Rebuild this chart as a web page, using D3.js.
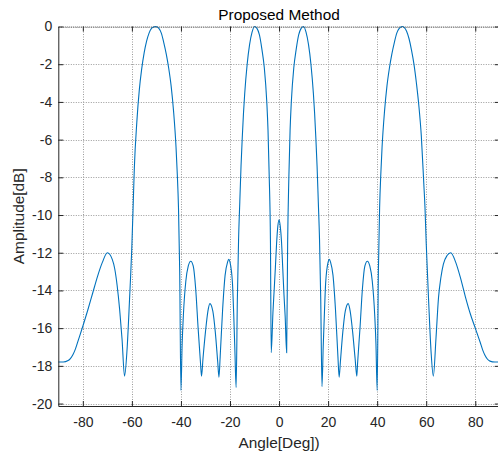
<!DOCTYPE html>
<html>
<head>
<meta charset="utf-8">
<script src="https://d3js.org/d3.v7.min.js"></script>
<style>
  body { margin: 0; background: #fff; }
  svg { display: block; font-family: "Liberation Sans", Arial, sans-serif; }
</style>
</head>
<body>
<svg id="chart" width="498" height="454"></svg>
<script>
// beam pattern
const angleDeg = [
  -90, -88, -86, -85, -84, -83, -82, -80, -78, -76, -74, -72, -70, -68, -67, -66, -65, -64, -63,
  -62, -61, -60, -59.5, -59, -58, -57, -56, -55, -54, -53, -52, -51, -50.2, -49, -48, -47, -46,
  -45, -44, -43, -42, -41.5, -41, -40.5, -40,
  -39.5, -39, -38, -37, -36, -35, -34, -33, -32, -31.6, -31, -30, -29, -28.2, -27, -26, -25,
  -24.5, -24, -23, -22, -21, -20.5, -20, -19, -18.5, -18, -17.5,
  -17, -16.5, -16, -15.5, -15, -14.5, -14, -13, -12, -11, -10, -9, -8, -7, -6, -5, -4.5, -4,
  -3.5, -3.2, -2.5, -2, -1.5, -1, -0.5, 0, 0.5, 1, 1.5, 2, 2.5, 3.1,
  3.5, 4, 4.5, 5, 6, 7, 8, 9, 10, 11, 12, 13, 14, 14.5, 15, 15.5, 16, 16.5, 17, 17.5,
  18, 18.5, 19, 20, 20.5, 21, 22, 23, 24, 24.5, 25, 26, 27, 28.2, 29, 30, 31, 31.7, 32, 33,
  34, 35, 36, 37, 38, 39, 39.5, 40,
  40.5, 41, 41.5, 42, 43, 44, 45, 46, 47, 48, 49, 50.2, 51, 52, 53, 54, 55, 56, 57, 58, 59,
  59.5, 60, 61, 62, 62.9,
  64, 65, 66, 67, 68.5, 70, 72, 74, 76, 78, 80, 82, 83, 84, 85, 86, 88, 90
];
const amplitudeDb = [
  -17.8, -17.8, -17.72, -17.6, -17.4, -17.1, -16.7, -15.9, -15.05, -14.15, -13.25, -12.5, -12.0, -12.35, -12.85, -13.75, -15.0, -16.6, -18.55,
  -17.2, -14.6, -11.6, -9.6, -7.5, -5.1, -3.4, -2.25, -1.4, -0.78, -0.35, -0.1, -0.02, 0, -0.1, -0.35, -0.85, -1.45,
  -2.2, -3.15, -4.5, -6.4, -7.8, -9.6, -13.0, -19.3,
  -16.8, -15.3, -13.5, -12.7, -12.45, -12.7, -13.9, -16.0, -17.9, -18.55, -17.6, -16.2, -15.1, -14.7, -15.1, -16.2, -17.8,
  -18.6, -17.5, -15.0, -13.2, -12.5, -12.35, -12.5, -13.6, -15.2, -17.2, -19.15,
  -14.5, -11.3, -9.3, -7.4, -5.9, -4.6, -3.55, -2.0, -0.95, -0.3, 0, -0.1, -0.45, -1.2, -2.2, -4.0, -5.5, -8.0,
  -11.5, -17.3, -15.2, -14.0, -12.8, -11.5, -10.6, -10.25, -10.6, -11.4, -12.8, -14.2, -15.4, -17.3,
  -11.5, -8.0, -5.5, -4.0, -2.2, -1.2, -0.45, -0.1, 0, -0.3, -0.95, -2.0, -3.55, -4.6, -5.9, -7.4, -9.3, -11.3, -14.5, -19.1,
  -17.0, -15.2, -13.6, -12.5, -12.35, -12.5, -13.2, -15.0, -17.5, -18.6, -17.8, -16.2, -15.1, -14.7, -15.1, -16.2, -17.6, -18.55, -17.9, -16.0,
  -13.9, -12.7, -12.45, -12.7, -13.5, -15.3, -16.8, -19.3,
  -13.0, -9.6, -7.8, -6.4, -4.5, -3.15, -2.2, -1.45, -0.85, -0.35, -0.1, 0, -0.05, -0.25, -0.65, -1.25, -2.0, -3.0, -4.2, -5.8, -8.3,
  -9.6, -11.5, -14.6, -17.3, -18.55,
  -16.5, -14.4, -13.3, -12.6, -12.15, -12.0, -12.5, -13.35, -14.35, -15.25, -16.0, -16.75, -17.15, -17.45, -17.65, -17.75, -17.8, -17.8
];
const xTicks = [-80, -60, -40, -20, 0, 20, 40, 60, 80];
const yTicks = [0, -2, -4, -6, -8, -10, -12, -14, -16, -18, -20];

const ink = '#262626';
const svg = d3.select('#chart');

const x = d3.scaleLinear().domain([-90, 90]).range([58.3, 499.8]);
const y = d3.scaleLinear().domain([-20.13, 0]).range([406, 26.5]);
const [x0, x1] = x.range();
const [y0, y1] = y.range();

// dotted grid
const grid = svg.append('g')
  .attr('stroke', '#9a9a9a')
  .attr('stroke-dasharray', '1,1.5')
  .attr('stroke-width', 1);
grid.selectAll('.gx').data(xTicks).join('line')
  .attr('x1', d => Math.round(x(d)) + 0.5).attr('x2', d => Math.round(x(d)) + 0.5)
  .attr('y1', y1).attr('y2', y0);
grid.selectAll('.gy').data(yTicks).join('line')
  .attr('y1', d => Math.round(y(d)) + 0.5).attr('y2', d => Math.round(y(d)) + 0.5)
  .attr('x1', x0).attr('x2', x1);

// curve
const points = angleDeg.map((a, i) => [a, amplitudeDb[i]]);
svg.append('path')
  .datum(points)
  .attr('fill', 'none')
  .attr('stroke', '#0072BD')
  .attr('stroke-width', 1.1)
  .attr('d', d3.line().x(d => x(d[0])).y(d => y(d[1])).curve(d3.curveMonotoneX));

// axes: ticks pointing inward, plain hyphen minus like the original
const fmt = d => String(d);
const xAxis = d3.axisBottom(x).tickValues(xTicks).tickFormat(fmt).tickSizeInner(-5).tickSizeOuter(0).tickPadding(11);
const yAxis = d3.axisLeft(y).tickValues(yTicks).tickFormat(fmt).tickSizeInner(-5).tickSizeOuter(0).tickPadding(6);

const gx = svg.append('g').attr('transform', `translate(0,${y0})`).call(xAxis);
const gy = svg.append('g').attr('transform', `translate(${x0},0)`).call(yAxis);
const gxTop = svg.append('g').attr('transform', `translate(0,${y1})`)
  .call(d3.axisTop(x).tickValues(xTicks).tickSizeInner(-5).tickSizeOuter(0).tickFormat(''));
const gyRight = svg.append('g').attr('transform', `translate(${x1},0)`)
  .call(d3.axisRight(y).tickValues(yTicks).tickSizeInner(-5).tickSizeOuter(0).tickFormat(''));

[gx, gy, gxTop, gyRight].forEach(g => {
  g.selectAll('.tick line').attr('stroke', ink);
  g.select('.domain').attr('stroke', ink);
  g.selectAll('text').attr('fill', ink).style('font-size', '14px')
    .style('font-family', '"Liberation Sans", Arial, sans-serif');
});
gxTop.select('.domain').attr('stroke', '#555').attr('stroke-dasharray', '1,1');

// labels
svg.append('text')
  .attr('x', (x0 + x1) / 2).attr('y', 20)
  .attr('text-anchor', 'middle').attr('fill', '#000')
  .style('font-size', '15.4px')
  .text('Proposed Method');

svg.append('text')
  .attr('x', (x0 + x1) / 2).attr('y', 448)
  .attr('text-anchor', 'middle').attr('fill', ink)
  .style('font-size', '15.4px')
  .text('Angle[Deg])');

svg.append('text')
  .attr('transform', `translate(24,${(y0 + y1) / 2}) rotate(-90)`)
  .attr('text-anchor', 'middle').attr('fill', ink)
  .style('font-size', '15.4px')
  .text('Amplitude[dB]');
</script>
</body>
</html>
